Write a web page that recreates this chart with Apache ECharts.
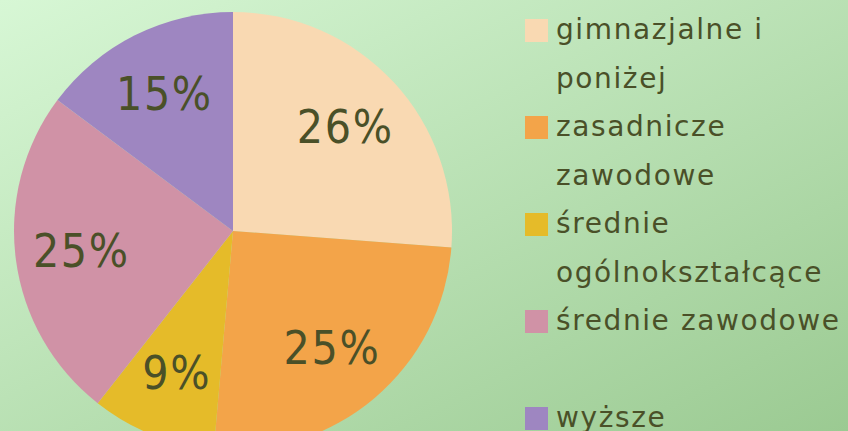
<!DOCTYPE html>
<html>
<head>
<meta charset="utf-8">
<script src="https://cdn.jsdelivr.net/npm/echarts@6/dist/echarts.min.js"></script>
<style>
html,body{margin:0;padding:0;background:#fff;}
#chart{width:848px;height:431px;}
#chart text{letter-spacing:1.6px;}
</style>
</head>
<body>
<div id="chart"></div>
<script>
const categories = ['gimnazjalne i\nponiżej', 'zasadnicze\nzawodowe', 'średnie\nogólnokształcące', 'średnie zawodowe\n ', 'wyższe\n '];
const values = [26.2, 25.2, 9.2, 24.6, 14.8];
const colors = ['#f9d9b2', '#f3a449', '#e5bb29', '#d092a6', '#9e86c1'];

const textColor = '#4a5028';

const chart = echarts.init(document.getElementById('chart'), null, {renderer: 'svg'});
const pieData = categories.map((c, i) => ({name: c, value: values[i], itemStyle: {color: colors[i]}}));
const labelData = categories.map((c, i) => ({name: c, value: values[i]}));

chart.setOption({
  animation: false,
  backgroundColor: {
    type: 'linear', x: 0, y: 0, x2: 1, y2: 1,
    colorStops: [{offset: 0, color: '#d7f7d5'}, {offset: 1, color: '#9bca92'}]
  },
  legend: {
    orient: 'vertical',
    left: 525,
    top: 5.5,
    height: 700,
    padding: 0,
    itemWidth: 23,
    itemHeight: 97,
    itemGap: 0,
    icon: 'path://M0,0h0.01v0.01h-0.01z M0,13.5h23v23h-23z M0,97h0.01v-0.01h-0.01z',
    itemStyle: {borderWidth: 0},
    data: categories,
    selectedMode: false,
    textStyle: {
      color: textColor,
      fontFamily: '"DejaVu Sans", sans-serif',
      fontSize: 28,
      lineHeight: 48.5,
      padding: [0, 0, 0, 3]
    }
  },
  series: [
    {
      type: 'pie',
      center: [233, 231],
      radius: [0, 219],
      startAngle: 90,
      clockwise: true,
      silent: true,
      label: {show: false},
      labelLine: {show: false},
      itemStyle: {borderWidth: 0},
      data: pieData
    },
    {
      type: 'pie',
      center: [233, 231],
      radius: [81, 219],
      startAngle: 90,
      clockwise: true,
      silent: true,
      percentPrecision: 0,
      itemStyle: {color: 'rgba(0,0,0,0)', borderWidth: 0},
      label: {
        show: true,
        position: 'inside',
        formatter: '{d}%',
        color: textColor,
        fontFamily: '"DejaVu Sans Condensed", "DejaVu Sans", sans-serif',
        fontSize: 46
      },
      labelLine: {show: false},
      data: labelData
    }
  ]
});
</script>
</body>
</html>
